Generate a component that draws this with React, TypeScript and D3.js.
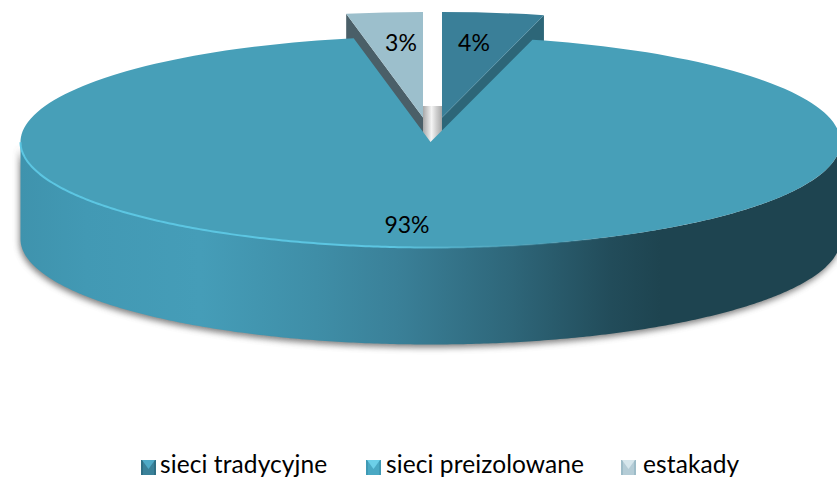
import * as d3 from "d3";

// values
const categories = ["sieci tradycyjne", "sieci preizolowane", "estakady"];
const shares = [4, 93, 3];

const width = 837;
const height = 477;

// ellipse of the tilted pie
const cx = 430.5;
const cy = 142;
const rx = 410;
const ry = 105.5;
const depth = 97;

const topColors = ["#3a7f98", "#479fb8", "#9cbfcc"];
const cutColors = ["#2d6678", "", "#4a5f68"];
// how far the two small slices are pulled out
const offsets = [[11.5, -24.5], [0, 0], [-7.5, -24.5]];
// label centres
const labelPos = [[474, 42], [407, 224], [401, 42]];

const legendSwatchX = [141, 366, 621];
const legendTextX = [160, 386, 643];
const swatchTop = ["#4fa9c6", "#6ccfe8", "#d6e6ec"];
const swatchSide = ["#2f6f85", "#3f9ab5", "#9dbcc8"];
const swatchBottom = ["#3a8199", "#4aa9c4", "#b4ccd6"];
const swatchSize = 15;

const pie = d3.pie<number>().sort(null).value((d) => d);
const slices = pie(shares);

const arc = d3.arc<d3.PieArcDatum<number>>().innerRadius(0).outerRadius(rx);

const ellipseX = (a: number) => rx * Math.sin(a);
const ellipseY = (a: number) => -ry * Math.cos(a);

// front wall, right rim round to left rim
const wallAngles = d3.range(Math.PI / 2, (3 * Math.PI) / 2 + 0.001, 0.01);
const wall = d3
  .area<number>()
  .x(ellipseX)
  .y0(ellipseY)
  .y1((a) => ellipseY(a) + depth)(wallAngles)!;
const rim = d3.line<number>().x(ellipseX).y(ellipseY)(wallAngles)!;

// flat face where a pulled out slice was cut, run down by the depth
const cutFace = (angle: number) => {
  const face = d3
    .area<number>()
    .x((t) => t * ellipseX(angle))
    .y0((t) => t * ellipseY(angle))
    .y1((t) => t * ellipseY(angle) + depth);
  return face([0, 1])!;
};

const wallStops: [number, string][] = [
  [0, "#3f93ad"],
  [0.08, "#4299b4"],
  [0.22, "#459db8"],
  [0.36, "#3f8ea7"],
  [0.46, "#3a8098"],
  [0.6, "#2e6679"],
  [0.72, "#224c5a"],
  [0.78, "#1e4450"],
  [1, "#1e4450"],
];

export default function App() {
  return (
    <svg width={width} height={height} style={{ position: "fixed", left: 0, top: 0, background: "#fff" }} fontFamily="Lato, sans-serif">
      <defs>
        <linearGradient id="wallFill" gradientUnits="userSpaceOnUse" x1={-rx} x2={rx} y1={0} y2={0}>
          {wallStops.map(([o, c]) => (
            <stop key={o} offset={o} stopColor={c} />
          ))}
        </linearGradient>
        <linearGradient id="rimStroke" gradientUnits="userSpaceOnUse" x1={-rx} x2={rx} y1={0} y2={0}>
          <stop offset={0} stopColor="#5cc6e2" />
          <stop offset={0.45} stopColor="#5cc6e2" />
          <stop offset={0.62} stopColor="#479fb8" stopOpacity={0.5} />
          <stop offset={0.75} stopColor="#479fb8" stopOpacity={0} />
        </linearGradient>
        <linearGradient id="notchFill" x1={0} x2={1} y1={0} y2={0}>
          <stop offset={0} stopColor="#a8a8a8" />
          <stop offset={0.45} stopColor="#f4f4f4" />
          <stop offset={0.7} stopColor="#cfcfcf" />
          <stop offset={1} stopColor="#a8a8a8" />
        </linearGradient>
        <filter id="soft" x="-5%" y="-10%" width="110%" height="120%">
          <feGaussianBlur stdDeviation={3} />
        </filter>
      </defs>

      <g transform={`translate(${cx},${cy})`}>
        {/* shadow under the disc */}
        <path d={wall} transform="translate(-1,3)" fill="#555" opacity={0.75} filter="url(#soft)" />

        {/* pulled out slices sit behind the big one */}
        {slices.map((s, i) => {
          if (!cutColors[i]) return null;
          const [dx, dy] = offsets[i];
          const angle = i === 0 ? s.endAngle : s.startAngle;
          return (
            <g key={i} transform={`translate(${dx},${dy})`}>
              <path d={cutFace(angle)} fill={cutColors[i]} />
              <path d={arc(s)!} transform={`scale(1,${ry / rx})`} fill={topColors[i]} />
            </g>
          );
        })}

        <rect x={offsets[2][0]} y={-36} width={offsets[0][0] - offsets[2][0]} height={38} fill="url(#notchFill)" />

        <path d={wall} fill="url(#wallFill)" />
        <path d={arc(slices[1])!} transform={`scale(1,${ry / rx})`} fill={topColors[1]} />
        <path d={rim} fill="none" stroke="url(#rimStroke)" strokeWidth={2} />
      </g>

      {slices.map((s, i) => (
        <text key={i} x={labelPos[i][0]} y={labelPos[i][1]} textAnchor="middle" dominantBaseline="central" fontSize={23} fill="#000">
          {`${s.data}%`}
        </text>
      ))}

      {categories.map((name, i) => (
        <g key={name}>
          {/* bevelled legend key */}
          <g transform={`translate(${legendSwatchX[i]},460)`}>
            <rect width={swatchSize} height={swatchSize} fill={swatchSide[i]} />
            <rect x={2} width={swatchSize - 4} height={swatchSize} fill={swatchBottom[i]} />
            <polygon points={`1,0 ${swatchSize - 1},0 ${swatchSize / 2},${swatchSize * 0.6}`} fill={swatchTop[i]} />
          </g>
          <text x={legendTextX[i]} y={472.5} fontSize={24.5} fill="#000" letterSpacing={0.1}>
            {name}
          </text>
        </g>
      ))}
    </svg>
  );
}
